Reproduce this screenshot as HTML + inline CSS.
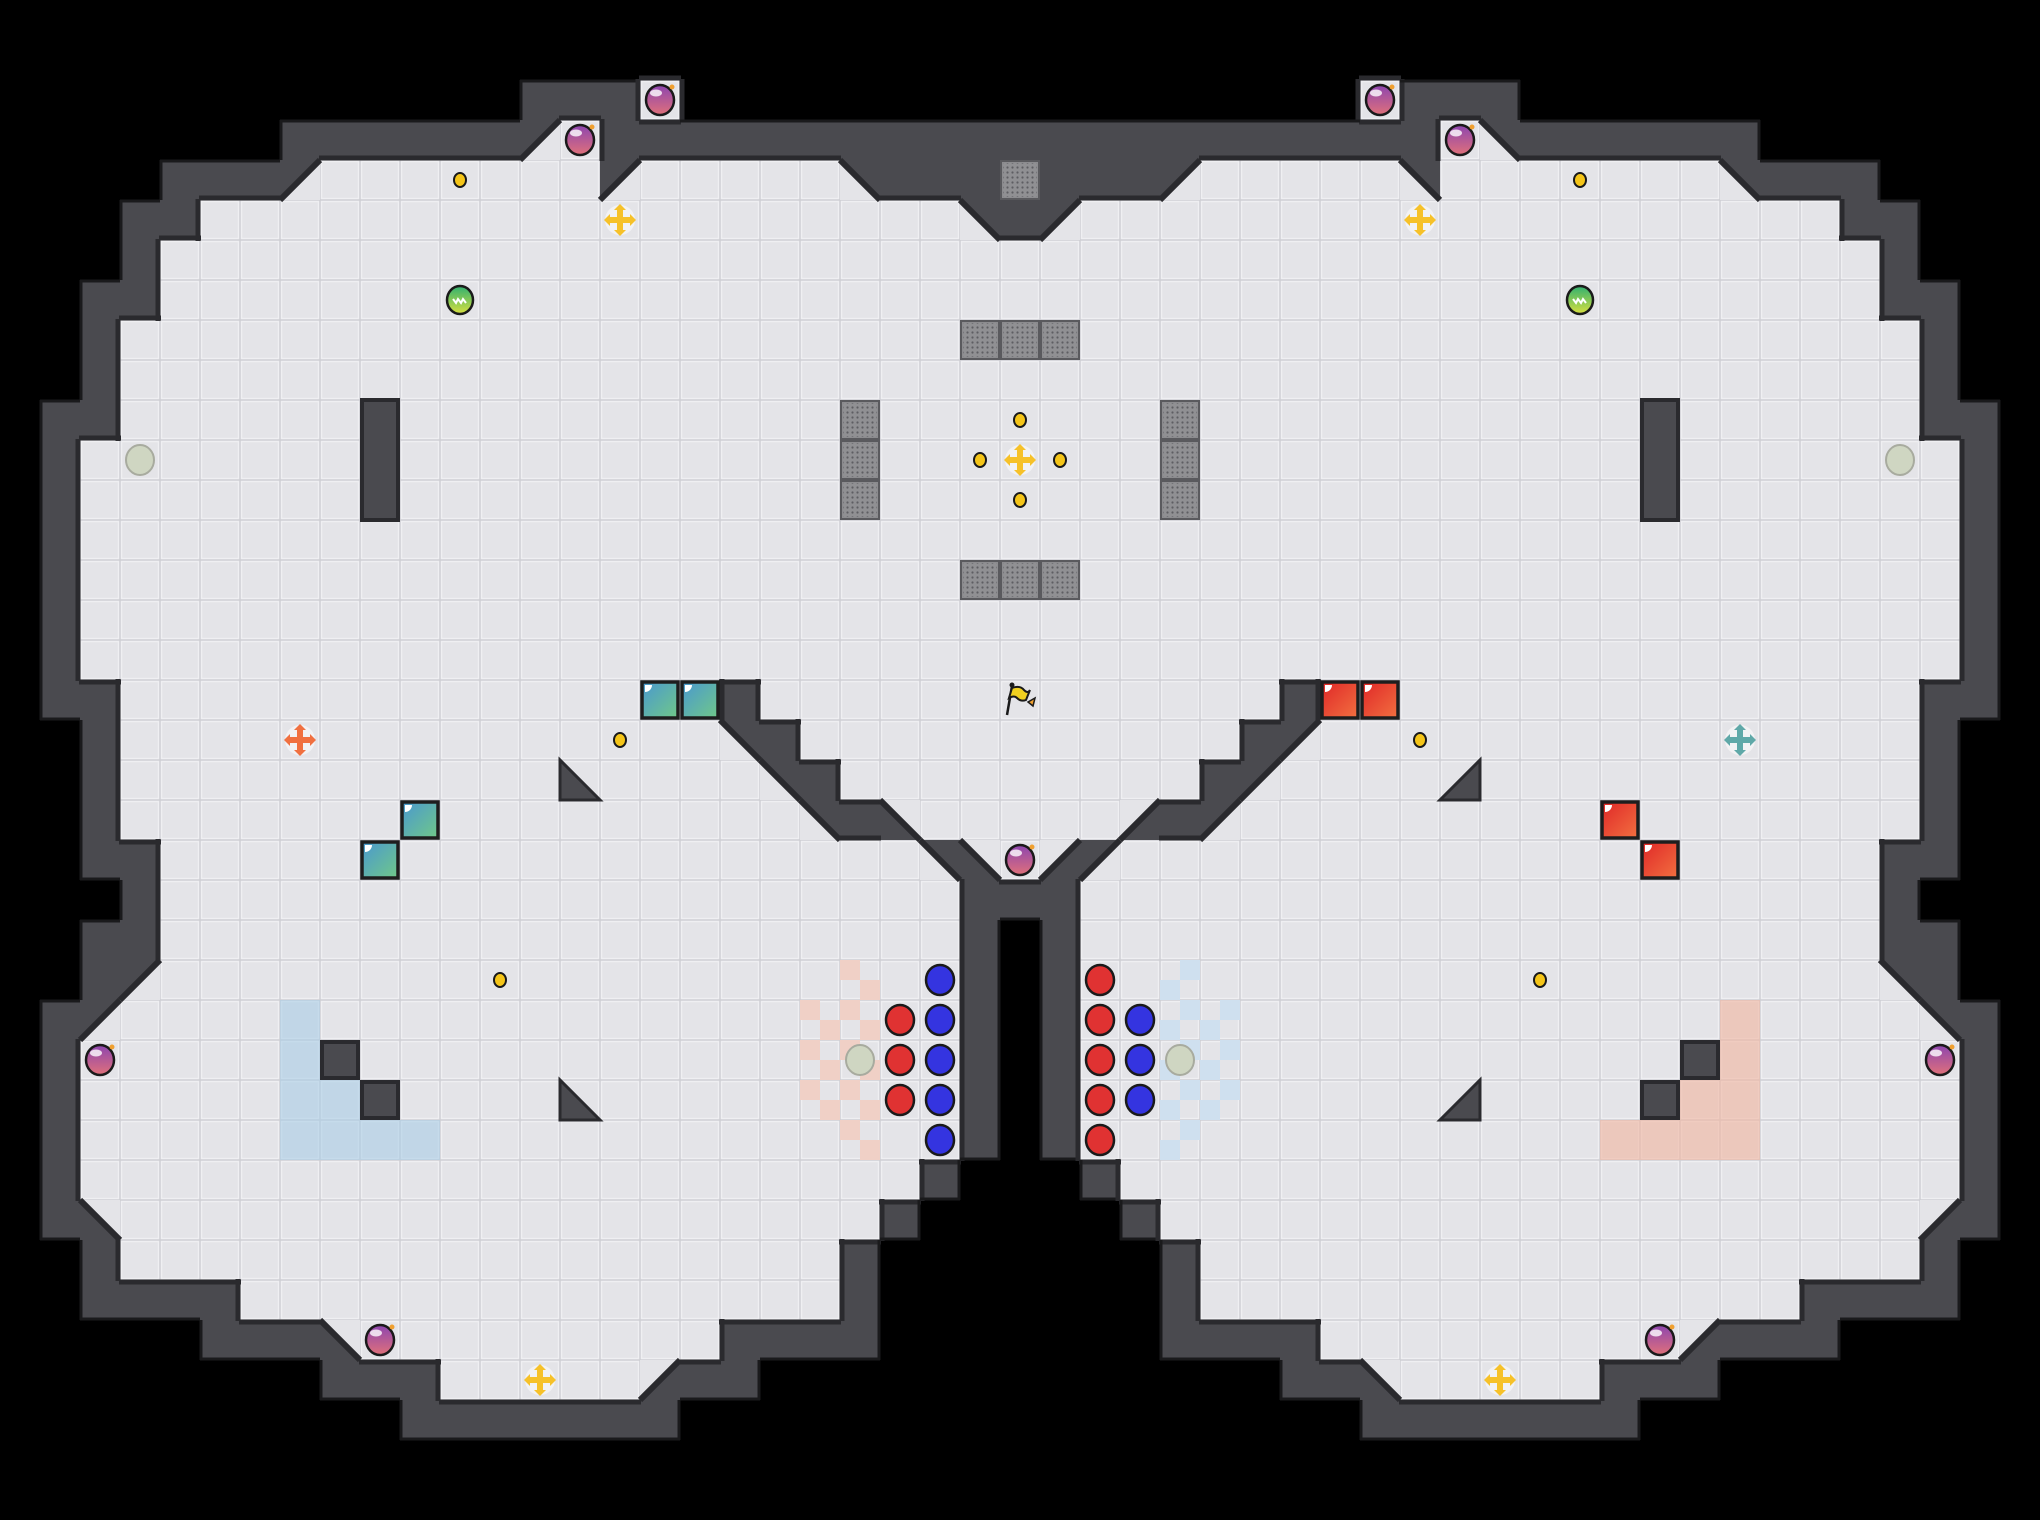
<!DOCTYPE html>
<html><head><meta charset="utf-8"><style>
html,body{margin:0;padding:0;background:#000;}
#wrap{width:2040px;height:1520px;overflow:hidden;background:#000;}
</style></head><body><div id="wrap"></div>
<script>
const L=40,R=38,C=51;
const g=[],dt={};
for(let r=0;r<R;r++){g.push(new Array(C).fill(0));}
const mir={bl:'br',br:'bl',tl:'tr',tr:'tl'};
function set(r,c,v){g[r][c]=v;g[r][50-c]=v;}
function rng(r,a,b,v){for(let c=a;c<=b;c++)set(r,c,v);}
const walls={2:[[13,15]],3:[[7,25]],4:[[4,25]],5:[[3,25]],6:[[3,25]],7:[[2,25]],8:[[2,25]],9:[[2,25]],
17:[[1,25]],18:[[2,25]],19:[[2,25]],20:[[2,25]],21:[[2,25]],22:[[3,25]],23:[[2,24]],24:[[2,24]],
25:[[1,24]],26:[[1,24]],27:[[1,24]],28:[[1,24]],29:[[1,23]],30:[[1,22]],31:[[2,21]],32:[[2,21]],33:[[5,21]],34:[[8,18]],35:[[10,16]]};
for(let r=10;r<=16;r++)walls[r]=[[1,25]];
const floors={2:[[16,16]],3:[[14,14]],4:[[8,14],[16,20]],5:[[5,23]],6:[[4,25]],7:[[4,25]],8:[[3,25]],9:[[3,25]],10:[[3,25]],
17:[[3,17],[19,25]],18:[[3,17],[20,25]],19:[[3,18],[21,25]],20:[[3,19],[23,25]],21:[[4,22],[25,25]],
22:[[4,23]],23:[[4,23]],24:[[4,23]],25:[[3,23]],26:[[2,23]],27:[[2,23]],28:[[2,23]],29:[[2,22]],30:[[3,21]],31:[[3,20]],32:[[6,20]],33:[[9,17]],34:[[11,15]]};
for(let r=11;r<=16;r++)floors[r]=[[2,25]];
for(const r in walls)for(const[a,b]of walls[r])rng(+r,a,b,1);
for(const r in floors)for(const[a,b]of floors[r])rng(+r,a,b,2);
const diags=[[3,13,'br'],[4,7,'br'],[4,15,'br'],[4,21,'bl'],[5,24,'bl'],[18,18,'bl'],[19,19,'bl'],[20,20,'bl'],[20,22,'tr'],[21,23,'bl'],[21,24,'tr'],[24,3,'br'],[25,2,'br'],[30,2,'tr'],[33,8,'tr'],[34,16,'tl']];
for(const[r,c,t]of diags){g[r][c]=3;g[r][50-c]=3;dt[r+'_'+c]=t;dt[r+'_'+(50-c)]=mir[t];}
let s='';
const W='#4a4a4f';
function tri(x,y,t){const P={bl:[[x,y],[x,y+L],[x+L,y+L]],br:[[x+L,y],[x+L,y+L],[x,y+L]],tl:[[x,y],[x+L,y],[x,y+L]],tr:[[x,y],[x+L,y],[x+L,y+L]]}[t];return P.map(p=>p.join(',')).join(' ');}
for(let r=0;r<R;r++)for(let c=0;c<C;c++){const x=c*L,y=r*L;
 if(g[r][c]==1||g[r][c]==3)s+=`<rect x="${x}" y="${y}" width="${L}" height="${L}" fill="${W}"/>`;}
for(let r=0;r<R;r++)for(let c=0;c<C;c++){const x=c*L,y=r*L;
 if(g[r][c]==2){s+=`<rect x="${x}" y="${y}" width="${L}" height="${L}" fill="#cfcfd4"/><rect x="${x+1.5}" y="${y+1.5}" width="${L-3}" height="${L-3}" fill="#e4e4e8" stroke="#efeff2" stroke-width="1.5"/>`;}
 if(g[r][c]==3){s+=`<polygon points="${tri(x,y,dt[r+'_'+c])}" fill="#e4e4e8"/>`;}}
const gv=(r,c)=>(r<0||r>=R||c<0||c>=C)?0:g[r][c];
for(let r=0;r<R;r++)for(let c=0;c<C;c++){const x=c*L,y=r*L,v=g[r][c];
 if(v==2){
  if(gv(r-1,c)<2)s+=`<line x1="${x-1}" y1="${y-2}" x2="${x+L+1}" y2="${y-2}" stroke="#2a2a2e" stroke-width="5"/>`;
  if(gv(r+1,c)<2)s+=`<line x1="${x-1}" y1="${y+L+2}" x2="${x+L+1}" y2="${y+L+2}" stroke="#2a2a2e" stroke-width="5"/>`;
  if(gv(r,c-1)<2)s+=`<line x1="${x-2}" y1="${y-1}" x2="${x-2}" y2="${y+L+1}" stroke="#2a2a2e" stroke-width="5"/>`;
  if(gv(r,c+1)<2)s+=`<line x1="${x+L+2}" y1="${y-1}" x2="${x+L+2}" y2="${y+L+1}" stroke="#2a2a2e" stroke-width="5"/>`;
 }
 if(v==3){const t=dt[r+'_'+c];
  if(t=='bl'||t=='tr')s+=`<line x1="${x}" y1="${y}" x2="${x+L}" y2="${y+L}" stroke="#2a2a2e" stroke-width="6"/>`;
  else s+=`<line x1="${x+L}" y1="${y}" x2="${x}" y2="${y+L}" stroke="#2a2a2e" stroke-width="6"/>`;}
 if(v==1){
  if(gv(r-1,c)==0)s+=`<line x1="${x}" y1="${y+1}" x2="${x+L}" y2="${y+1}" stroke="#1a1a1c" stroke-width="3"/>`;
  if(gv(r+1,c)==0)s+=`<line x1="${x}" y1="${y+L-1}" x2="${x+L}" y2="${y+L-1}" stroke="#1a1a1c" stroke-width="3"/>`;
  if(gv(r,c-1)==0)s+=`<line x1="${x+1}" y1="${y}" x2="${x+1}" y2="${y+L}" stroke="#1a1a1c" stroke-width="3"/>`;
  if(gv(r,c+1)==0)s+=`<line x1="${x+L-1}" y1="${y}" x2="${x+L-1}" y2="${y+L}" stroke="#1a1a1c" stroke-width="3"/>`;
 }}
const cx=c=>c*L+20,cy=r=>r*L+20;
function cell(c,r,f){s+=`<rect x="${c*L}" y="${r*L}" width="${L}" height="${L}" fill="${f}"/>`;}
function block(c,r){s+=`<rect x="${c*L+2}" y="${r*L+2}" width="${L-4}" height="${L-4}" fill="${W}" stroke="#2a2a2e" stroke-width="4"/>`;}
function grate(c,r){s+=`<rect x="${c*L+1}" y="${r*L+1}" width="${L-2}" height="${L-2}" fill="#8c8c8f" stroke="#5a5a5e" stroke-width="2"/><rect x="${c*L+3}" y="${r*L+3}" width="${L-6}" height="${L-6}" fill="url(#dots)"/>`;}
function pillar(c,r1,r2){s+=`<rect x="${c*L+2}" y="${r1*L}" width="${L-4}" height="${(r2-r1+1)*L}" fill="${W}" stroke="#2a2a2e" stroke-width="4"/>`;}
function circ(c,r,f){s+=`<ellipse cx="${cx(c)}" cy="${cy(r)}" rx="14" ry="15" fill="${f}" stroke="#1a1a1a" stroke-width="2.5"/>`;}
function coin(c,r){s+=`<ellipse cx="${cx(c)}" cy="${cy(r)}" rx="6" ry="7" fill="#f5c518" stroke="#1a1a1a" stroke-width="2"/>`;}
function bubble(c,r){const x=cx(c),y=cy(r);s+=`<ellipse cx="${x}" cy="${y}" rx="14" ry="15" fill="url(#pur)" stroke="#1a1a1a" stroke-width="2.5"/><ellipse cx="${x-4}" cy="${y-7}" rx="6" ry="3.5" fill="#fff" opacity="0.8"/><circle cx="${x+12}" cy="${y-13}" r="2.5" fill="#f0a030"/>`;}
function green(c,r){const x=cx(c),y=cy(r);s+=`<ellipse cx="${x}" cy="${y}" rx="13" ry="14" fill="url(#grn)" stroke="#1a1a1a" stroke-width="2.5"/><path d="M${x-7},${y-1} l3,4 l2,-4 l3,4 l2,-4 l3,4" fill="none" stroke="#fff" stroke-width="2"/>`;}
function gray(c,r){s+=`<ellipse cx="${cx(c)}" cy="${cy(r)}" rx="14" ry="15" fill="#cfd6c2" stroke="#a8ab9f" stroke-width="2"/>`;}
function cross(c,r,f){const x=cx(c),y=cy(r);s+=`<circle cx="${x}" cy="${y}" r="15" fill="#fff" opacity="0.5"/><rect x="${x-12}" y="${y-3}" width="24" height="6" fill="${f}"/><rect x="${x-3}" y="${y-12}" width="6" height="24" fill="${f}"/><polygon points="${x-16},${y} ${x-10},${y-6} ${x-10},${y+6}" fill="${f}"/><polygon points="${x+16},${y} ${x+10},${y-6} ${x+10},${y+6}" fill="${f}"/><polygon points="${x},${y-16} ${x-6},${y-10} ${x+6},${y-10}" fill="${f}"/><polygon points="${x},${y+16} ${x-6},${y+10} ${x+6},${y+10}" fill="${f}"/>`;}
function box(c,r,grad){s+=`<rect x="${c*L+2}" y="${r*L+2}" width="${L-4}" height="${L-4}" fill="url(#${grad})" stroke="#1e1e1e" stroke-width="3.5"/><path d="M${c*L+5},${r*L+5} h7 a7,7 0 0 1 -7,7 z" fill="#fff"/>`;}
function checker(c,r,f,flip){const x=c*L,y=r*L,h=L/2;if(!flip){s+=`<rect x="${x}" y="${y}" width="${h}" height="${h}" fill="${f}"/><rect x="${x+h}" y="${y+h}" width="${h}" height="${h}" fill="${f}"/>`;}else{s+=`<rect x="${x+h}" y="${y}" width="${h}" height="${h}" fill="${f}"/><rect x="${x}" y="${y+h}" width="${h}" height="${h}" fill="${f}"/>`;}}
function dtri(c,r,t){s+=`<polygon points="${tri(c*L,r*L,t)}" fill="${W}" stroke="#2a2a2e" stroke-width="3"/>`;}
const blueL=[[7,25],[7,26],[7,27],[7,28],[8,27],[8,28],[9,28],[10,28]];
for(const[c,r]of blueL){cell(c,r,'rgba(170,205,230,0.6)');cell(50-c,r,'rgba(240,185,165,0.65)');}
for(const r of [25,26,27])checker(20,r,'#f0d0c6',false);
for(const r of [24,25,26,27,28])checker(21,r,'#f0d0c6',false);
for(const r of [25,26,27])checker(30,r,'#cfe0ef',true);
for(const r of [24,25,26,27,28])checker(29,r,'#cfe0ef',true);
block(8,26);block(9,27);block(42,26);block(41,27);
pillar(9,10,12);pillar(41,10,12);
dtri(14,19,'bl');dtri(14,27,'bl');dtri(36,19,'br');dtri(36,27,'br');
grate(25,4);for(const c of[24,25,26]){grate(c,8);grate(c,14);}
for(const r of[10,11,12]){grate(21,r);grate(29,r);}
for(const r of[25,26,27])circ(22,r,'#e03232');
for(const r of[24,25,26,27,28])circ(23,r,'#3434e0');
for(const r of[24,25,26,27,28])circ(27,r,'#e03232');
for(const r of[25,26,27])circ(28,r,'#3434e0');
gray(21,26);gray(29,26);gray(3,11);gray(47,11);
for(const[c,r]of[[11,4],[15,18],[12,24],[39,4],[35,18],[38,24],[25,10],[24,11],[26,11],[25,12]])coin(c,r);
for(const[c,r]of[[15,5],[35,5],[25,11],[13,34],[37,34]])cross(c,r,'#f6c12a');
cross(7,18,'#f07040');cross(43,18,'#5fa8a8');
green(11,7);green(39,7);
box(16,17,'teal');box(17,17,'teal');box(10,20,'teal');box(9,21,'teal');
box(33,17,'red');box(34,17,'red');box(40,20,'red');box(41,21,'red');
for(const[c,r]of[[16,2],[14,3],[2,26],[9,33],[25,21],[34,2],[36,3],[48,26],[41,33]])bubble(c,r);
{const x=cx(25),y=cy(17);s+=`<line x1="${x-13}" y1="${y+15}" x2="${x-8}" y2="${y-14}" stroke="#1a1a1a" stroke-width="2.5"/><circle cx="${x-8}" cy="${y-15}" r="2.5" fill="#1a1a1a"/><path d="M${x-8},${y-12} q8,-3 12,2 q4,4 6,0 l-4,10 q-5,2 -9,-2 q-3,-3 -8,0 z" fill="#f0d020" stroke="#1a1a1a" stroke-width="2"/><path d="M${x+8},${y+2} l7,-4 l-2,8 z" fill="#f0a030" stroke="#1a1a1a" stroke-width="1.5"/>`;}
const defs=`<defs>
<pattern id="dots" width="5" height="5" patternUnits="userSpaceOnUse"><rect width="5" height="5" fill="#909093"/><circle cx="2.5" cy="2.5" r="1.1" fill="#5e5e62"/></pattern>
<linearGradient id="pur" x1="0" y1="0" x2="0" y2="1"><stop offset="0" stop-color="#8d45b0"/><stop offset="1" stop-color="#e0707a"/></linearGradient>
<linearGradient id="grn" x1="0" y1="0" x2="0" y2="1"><stop offset="0" stop-color="#30b070"/><stop offset="1" stop-color="#d8e040"/></linearGradient>
<linearGradient id="teal" x1="0" y1="0" x2="1" y2="1"><stop offset="0" stop-color="#4a98d0"/><stop offset="1" stop-color="#70c888"/></linearGradient>
<linearGradient id="red" x1="0" y1="0" x2="1" y2="1"><stop offset="0" stop-color="#e02828"/><stop offset="1" stop-color="#f27040"/></linearGradient>
</defs>`;
document.getElementById('wrap').innerHTML=`<svg xmlns="http://www.w3.org/2000/svg" width="2040" height="1520" viewBox="0 0 2040 1520">${defs}<rect width="2040" height="1520" fill="#000"/>${s}</svg>`;
</script></body></html>
